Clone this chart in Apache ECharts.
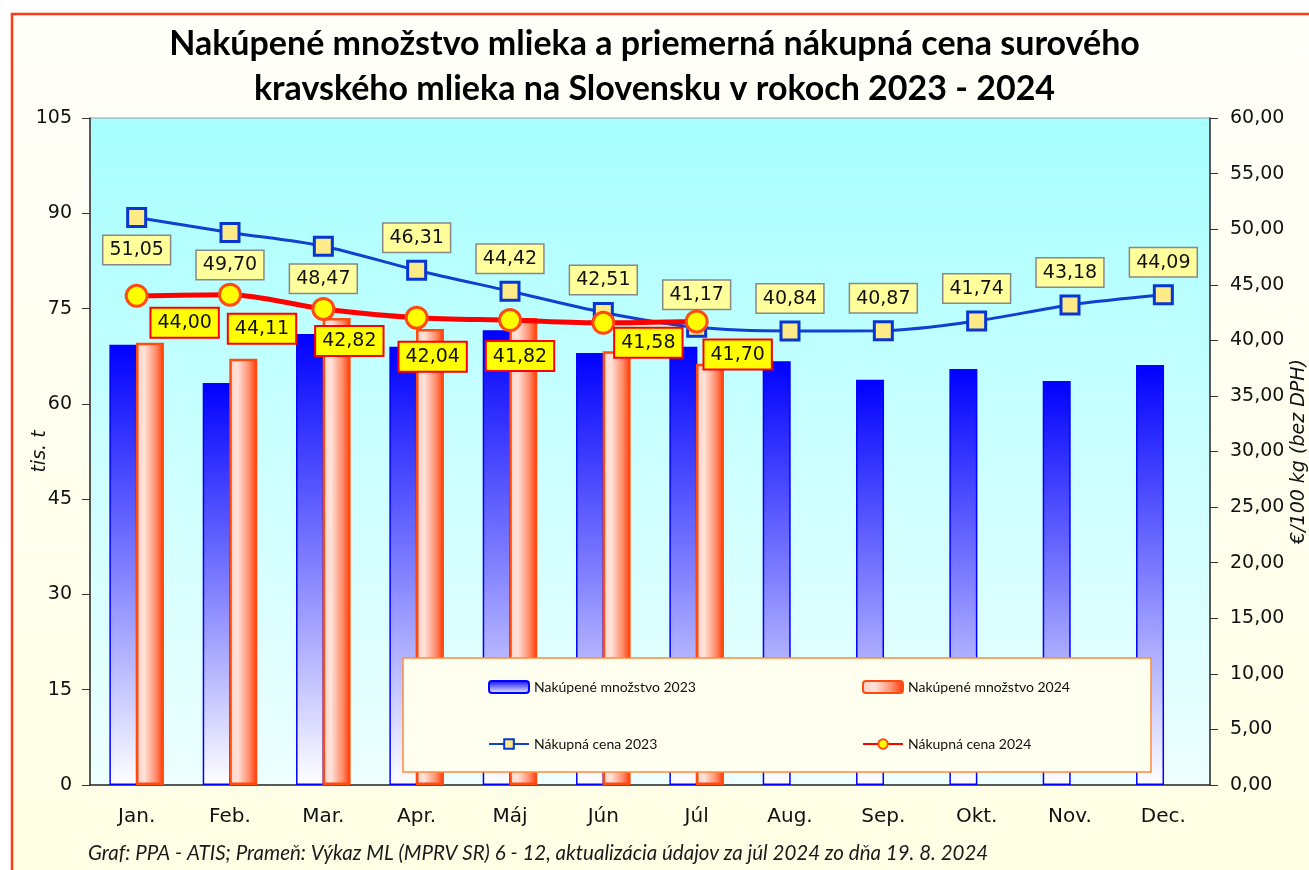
<!DOCTYPE html>
<html>
<head>
<meta charset="utf-8">
<script src="https://cdn.jsdelivr.net/npm/echarts@6/dist/echarts.min.js"></script>
<style>
  html, body { margin: 0; padding: 0; background: #fff; }
  #chart { width: 1309px; height: 870px; }
</style>
</head>
<body>
<div id="chart"></div>
<script>
  // data
  var months = ['Jan.', 'Feb.', 'Mar.', 'Apr.', 'Máj', 'Jún', 'Júl', 'Aug.', 'Sep.', 'Okt.', 'Nov.', 'Dec.'];
  var qty2023 = [69.3, 63.3, 71.0, 69.0, 71.6, 68.0, 69.0, 66.7, 63.8, 65.5, 63.6, 66.1];
  var qty2024 = [69.6, 67.1, 73.5, 71.8, 73.5, 68.3, 66.3, null, null, null, null, null];
  var price2023 = [51.05, 49.70, 48.47, 46.31, 44.42, 42.51, 41.17, 40.84, 40.87, 41.74, 43.18, 44.09];
  var price2024 = [44.00, 44.11, 42.82, 42.04, 41.82, 41.58, 41.70];
  var leftTicks = { min: 0, max: 105, step: 15 };
  var rightTicks = { min: 0, max: 60, step: 5 };

  // where the 2024 price labels sit relative to their points
  var label24Offset = [[48, 1], [32, 8], [26, 6], [16, 13], [10, 10], [45, -6], [41, 7]];

  function comma(v) { return Number(v).toFixed(2).replace('.', ','); }

  var chart = echarts.init(document.getElementById('chart'));

  var axisFont = 'DejaVu Sans';
  var textFont = 'Lato';

  var option = {
    backgroundColor: '#ffffff',
    animation: false,
    title: {
      text: 'Nakúpené množstvo mlieka a priemerná nákupná cena surového\nkravského mlieka na Slovensku v rokoch 2023 - 2024',
      left: 'center',
      top: 17,
      textStyle: { fontFamily: textFont, fontWeight: 'bold', fontSize: 34, lineHeight: 45, color: '#000' }
    },
    graphic: [
      {
        type: 'rect', z: -10,
        shape: { x: 12, y: 14, width: 1400, height: 900 },
        style: {
          fill: new echarts.graphic.LinearGradient(0, 0, 0, 1, [
            { offset: 0, color: '#fffffa' }, { offset: 1, color: '#ffffe4' }
          ]),
          stroke: '#ff3a10', lineWidth: 2.5
        }
      },
      {
        type: 'rect', z: 20,
        shape: { x: 403, y: 658, width: 748, height: 114 },
        style: { fill: '#fffff0', stroke: '#ff8a3c', lineWidth: 1.5 }
      },
      {
        type: 'text', z: 20, left: 88, top: 843,
        style: {
          text: 'Graf: PPA - ATIS; Prameň: Výkaz ML (MPRV SR) 6 - 12, aktualizácia údajov za júl 2024 zo dňa 19. 8. 2024',
          fontFamily: textFont, fontStyle: 'italic', fontSize: 20.5, fill: '#1a1a1a'
        }
      }
    ],
    legend: [
      {
        z: 30, left: 483, top: 675, orient: 'vertical', itemGap: 43,
        itemWidth: 40, itemHeight: 12,
        textStyle: { fontFamily: textFont, fontSize: 14, color: '#111' },
        data: ['Nakúpené množstvo 2023', 'Nákupná cena 2023']
      },
      {
        z: 30, left: 857, top: 675, orient: 'vertical', itemGap: 43,
        itemWidth: 40, itemHeight: 12,
        textStyle: { fontFamily: textFont, fontSize: 14, color: '#111' },
        data: ['Nakúpené množstvo 2024', 'Nákupná cena 2024']
      }
    ],
    grid: {
      left: 90, right: 99, top: 118, bottom: 85,
      outerBoundsMode: 'none',
      show: true, borderColor: '#999', borderWidth: 1,
      backgroundColor: new echarts.graphic.LinearGradient(0, 0, 0, 1, [
        { offset: 0, color: '#a8ffff' }, { offset: 1, color: '#eeffff' }
      ])
    },
    xAxis: {
      type: 'category',
      data: months,
      axisLine: { lineStyle: { color: '#333', width: 1.5 } },
      axisTick: { length: 12, lineStyle: { color: '#333', width: 1.2 } },
      axisLabel: { fontFamily: axisFont, fontSize: 20, color: '#111', margin: 22 }
    },
    yAxis: [
      {
        type: 'value', min: leftTicks.min, max: leftTicks.max, interval: leftTicks.step,
        name: 'tis. t', nameLocation: 'middle', nameGap: 40, nameRotate: 90, nameMoveOverlap: false,
        nameTextStyle: { fontFamily: axisFont, fontStyle: 'italic', fontSize: 19, color: '#111' },
        axisLine: { show: true, lineStyle: { color: '#333', width: 1.5 } },
        axisTick: { show: true, length: 8, lineStyle: { color: '#333' } },
        axisLabel: { fontFamily: axisFont, fontSize: 19, color: '#111', margin: 18 },
        splitLine: { show: false }
      },
      {
        type: 'value', min: rightTicks.min, max: rightTicks.max, interval: rightTicks.step,
        position: 'right',
        name: '€/100 kg (bez DPH)', nameLocation: 'middle', nameGap: 80, nameRotate: 90, nameMoveOverlap: false,
        nameTextStyle: { fontFamily: axisFont, fontStyle: 'italic', fontSize: 19, color: '#111' },
        axisLine: { show: true, lineStyle: { color: '#333', width: 1.5 } },
        axisTick: { show: true, length: 8, lineStyle: { color: '#333' } },
        axisLabel: { fontFamily: axisFont, fontSize: 19, color: '#111', margin: 20, formatter: comma },
        splitLine: { show: false }
      }
    ],
    series: [
      {
        name: 'Nakúpené množstvo 2023',
        type: 'bar', yAxisIndex: 0, z: 2,
        barWidth: 28, barGap: '-5%',
        data: qty2023,
        itemStyle: {
          color: new echarts.graphic.LinearGradient(0, 0, 0, 1, [
            { offset: 0, color: '#0000ff' }, { offset: 0.5, color: '#7d7dff' }, { offset: 1, color: '#ffffff' }
          ]),
          borderColor: '#0000ff', borderWidth: 1.5
        }
      },
      {
        name: 'Nakúpené množstvo 2024',
        type: 'bar', yAxisIndex: 0, z: 2,
        barWidth: 28,
        data: qty2024,
        itemStyle: {
          color: new echarts.graphic.LinearGradient(0, 0, 1, 0, [
            { offset: 0, color: '#ffd0c4' }, { offset: 0.3, color: '#ffe2da' },
            { offset: 0.7, color: '#ff9070' }, { offset: 1, color: '#ff3600' }
          ]),
          borderColor: '#ff4a10', borderWidth: 2.5
        }
      },
      {
        name: 'Nákupná cena 2023',
        type: 'line', yAxisIndex: 1, z: 4,
        smooth: 0.3,
        symbol: 'rect', symbolSize: 18,
        data: price2023.map(function (v, i) {
          return { value: v, label: { position: i < 3 ? 'bottom' : 'top' } };
        }),
        lineStyle: { color: '#1040d0', width: 3 },
        itemStyle: { color: '#ffea88', borderColor: '#0836d0', borderWidth: 3 },
        label: {
          show: true, distance: 8, formatter: function (p) { return comma(p.value); },
          fontFamily: axisFont, fontSize: 19, color: '#111',
          backgroundColor: '#ffff9c', borderColor: '#888', borderWidth: 1.5,
          padding: [5, 6, 4, 6]
        }
      },
      {
        name: 'Nákupná cena 2024',
        type: 'line', yAxisIndex: 1, z: 5,
        smooth: 0.3,
        symbol: 'circle', symbolSize: 21,
        data: price2024.map(function (v, i) {
          return { value: v, label: { offset: label24Offset[i] } };
        }),
        lineStyle: { color: '#ff0000', width: 5 },
        itemStyle: { color: '#ffff00', borderColor: '#ff4a10', borderWidth: 3 },
        label: {
          show: true, position: 'bottom', distance: 0,
          formatter: function (p) { return comma(p.value); },
          fontFamily: axisFont, fontSize: 19, color: '#111',
          backgroundColor: '#ffff00', borderColor: '#ff0000', borderWidth: 2,
          padding: [5, 6, 4, 6]
        }
      }
    ]
  };

  chart.setOption(option);
</script>
</body>
</html>
